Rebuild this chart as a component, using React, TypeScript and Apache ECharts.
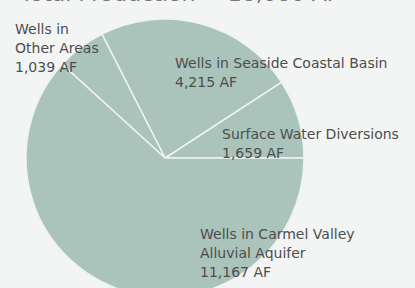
import React, { useEffect, useRef } from "react";
import * as echarts from "echarts";

const categories = [
  "Surface Water Diversions",
  "Wells in Seaside Coastal Basin",
  "Wells in\nOther Areas",
  "Wells in Carmel Valley\nAlluvial Aquifer",
];
const values = [1659, 4215, 1039, 11167];
const titleText = "Total Production = 18,080 AF";

const labelPositions: [number, number][] = [
  [222, 124],
  [175, 53],
  [15, 19],
  [200, 224],
];

export default function App() {
  const ref = useRef<HTMLDivElement>(null);
  useEffect(() => {
    document.body.style.margin = "0";
    const chart = echarts.init(ref.current!, undefined, { renderer: "svg" });
    chart.setOption({
      animation: false,
      backgroundColor: "#f3f5f4",
      graphic: [
        {
          type: "text",
          left: 20,
          top: -18,
          style: {
            text: titleText,
            fontFamily: "DejaVu Sans",
            fontSize: 22,
            fill: "#777",
          },
        },
      ],
      series: [
        {
          type: "pie",
          center: [165, 158],
          radius: 139,
          startAngle: 0,
          clockwise: false,
          silent: true,
          itemStyle: {
            color: "#aac4bb",
            borderColor: "#eef3f1",
            borderWidth: 1.5,
          },
          label: {
            show: true,
            position: "inside",
            formatter: (p: any) =>
              p.name + "\n" + p.value.toLocaleString("en-US") + " AF",
            fontFamily: "DejaVu Sans",
            fontSize: 14,
            lineHeight: 19,
            color: "#4d4d4d",
            align: "left",
          },
          labelLine: { show: false },
          labelLayout: (params: any) => ({
            x: labelPositions[params.dataIndex][0],
            y: labelPositions[params.dataIndex][1],
            align: "left",
            verticalAlign: "top",
          }),
          data: categories.map((c, i) => ({ name: c, value: values[i] })),
        },
      ],
    });
    return () => chart.dispose();
  }, []);
  return <div ref={ref} style={{ width: 415, height: 288 }} />;
}
